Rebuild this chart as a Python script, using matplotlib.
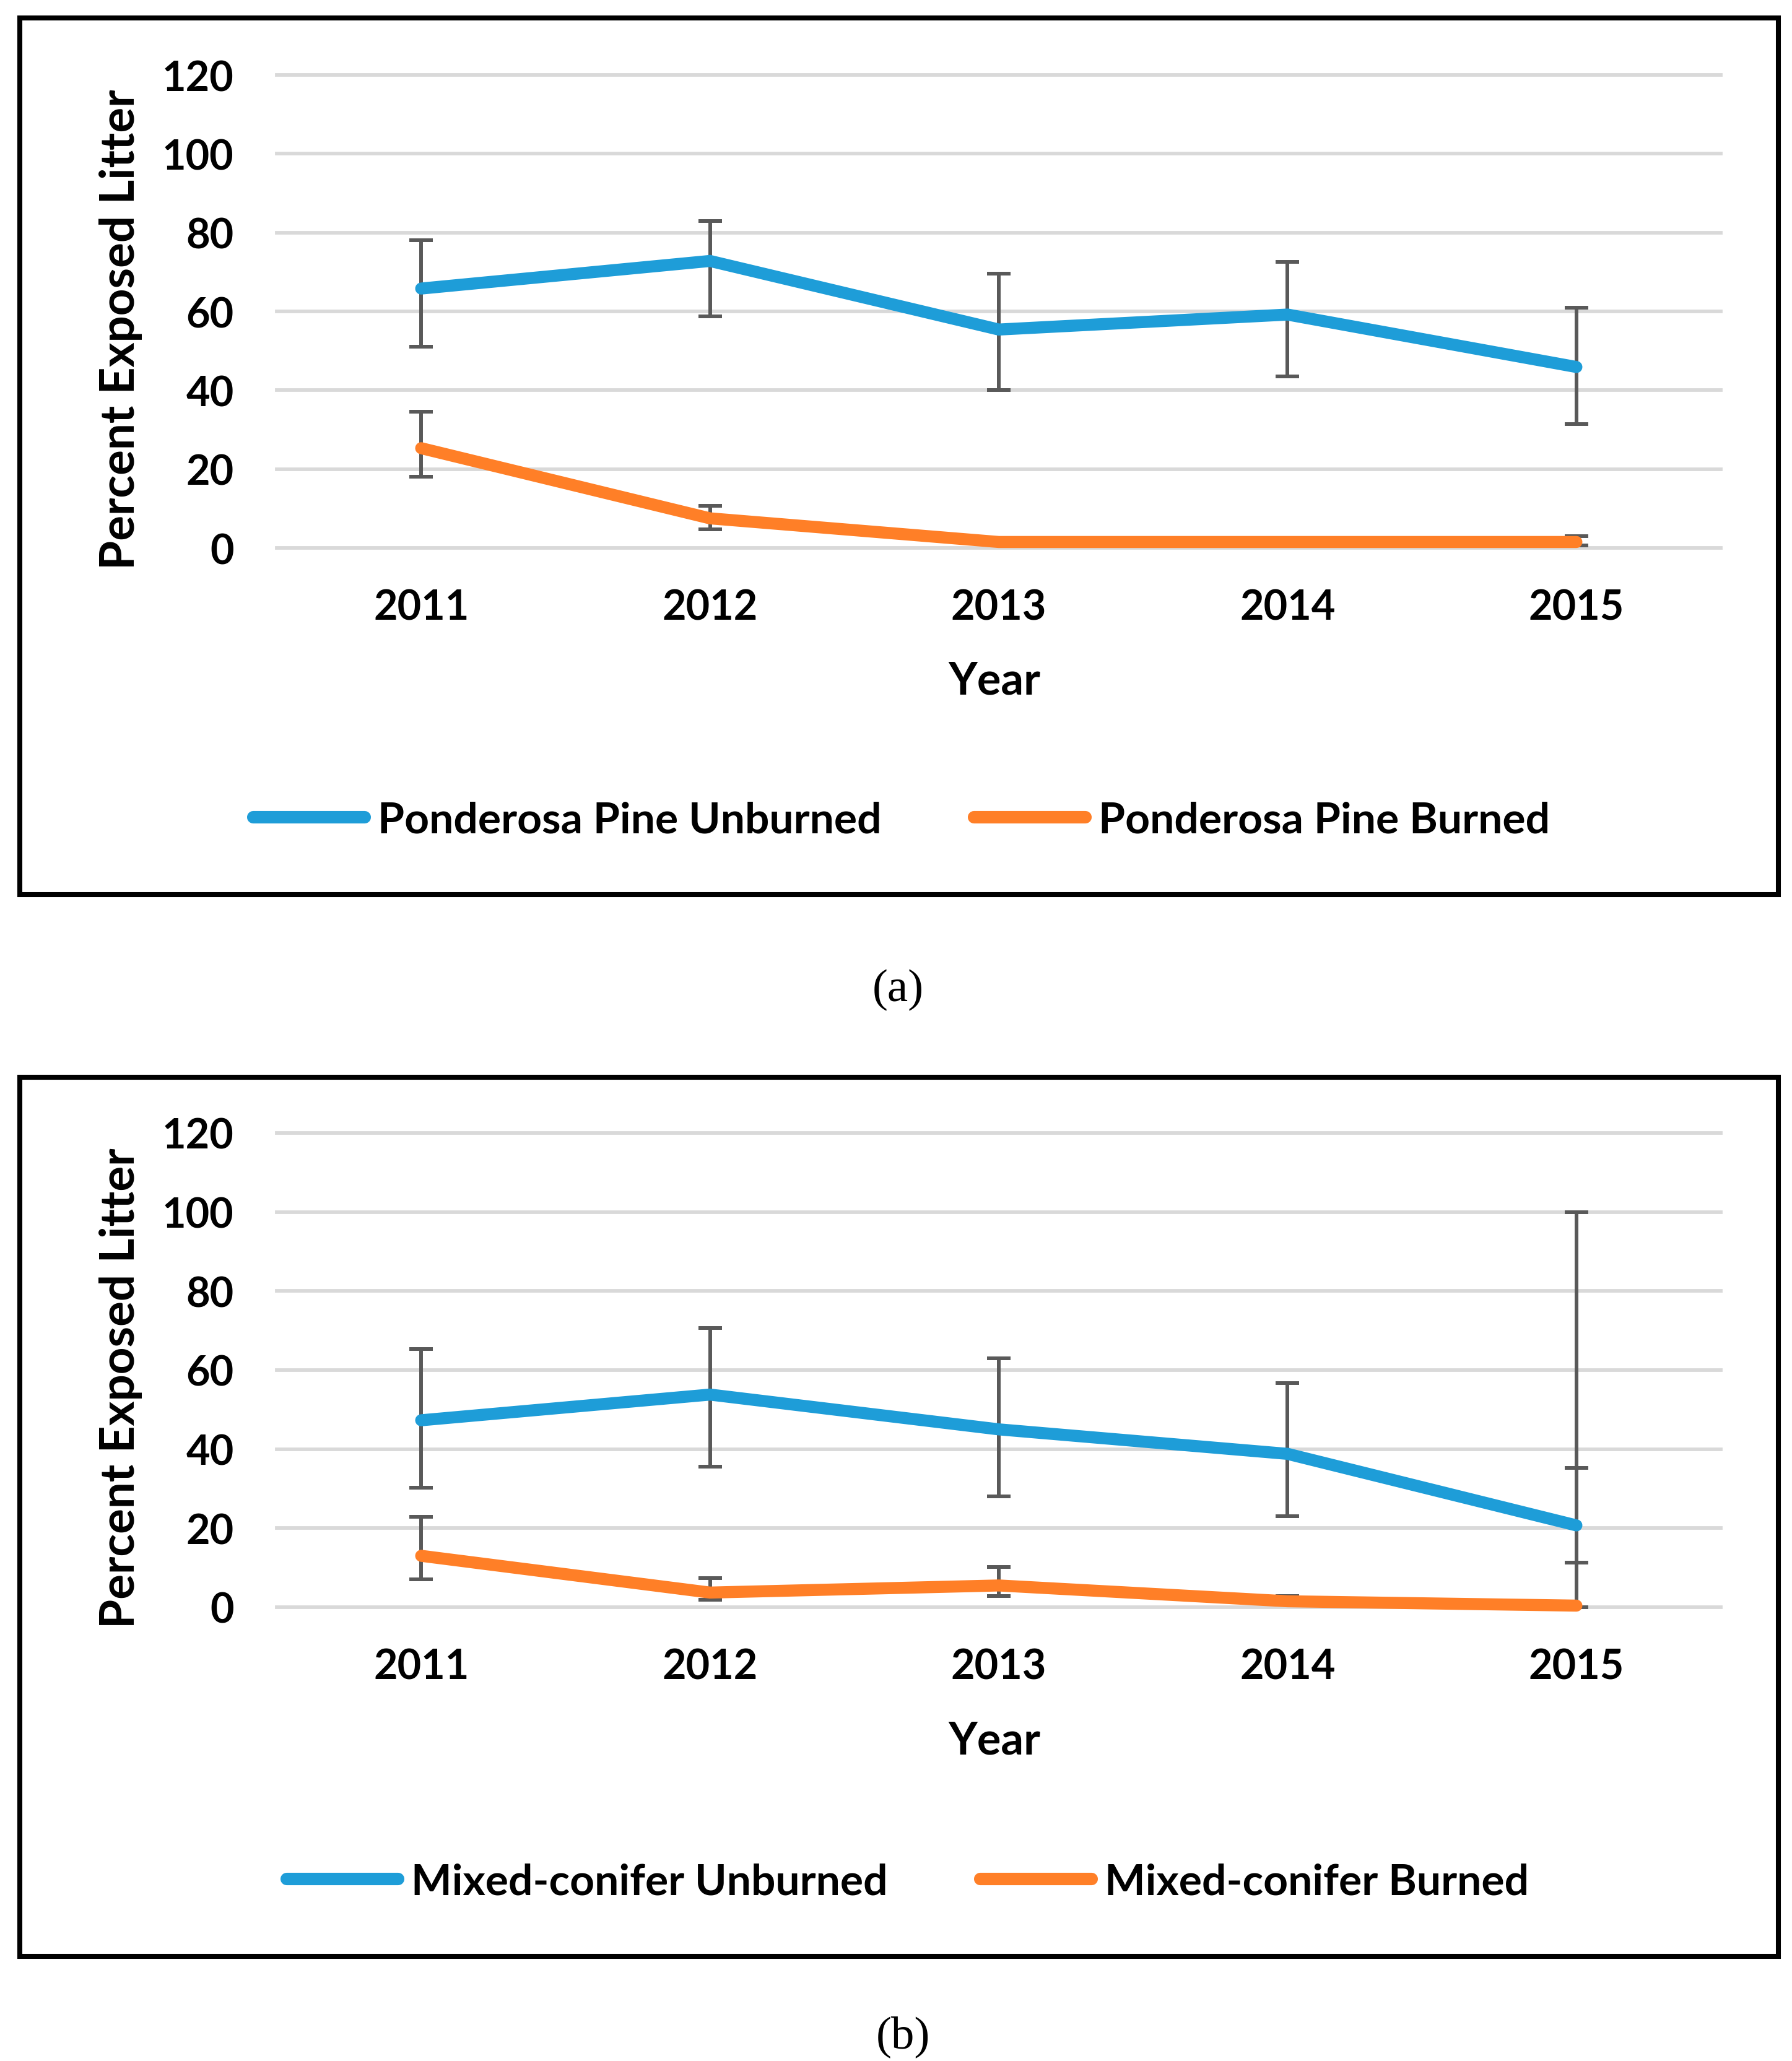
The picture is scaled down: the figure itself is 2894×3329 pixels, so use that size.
import matplotlib
matplotlib.use("Agg")
import matplotlib.pyplot as plt
import numpy as np
from matplotlib.patches import Rectangle

# data
years = ["2011", "2012", "2013", "2014", "2015"]

pp_unburned = [65.8, 72.8, 55.4, 59.2, 45.9]
pp_unburned_hi = [78.1, 82.9, 69.6, 72.6, 61.0]
pp_unburned_lo = [51.0, 58.7, 40.0, 43.5, 31.4]
pp_burned = [25.3, 7.5, 1.5, 1.5, 1.5]
pp_burned_hi = [34.5, 10.7, 2.5, 2.3, 3.0]
pp_burned_lo = [18.0, 4.7, 0.8, 0.8, 0.6]

mc_unburned = [47.3, 53.8, 45.0, 38.8, 20.7]
mc_unburned_hi = [65.4, 70.7, 63.0, 56.7, 35.3]
mc_unburned_lo = [30.2, 35.6, 28.0, 23.1, 11.3]
mc_burned = [13.0, 3.7, 5.5, 1.5, 0.4]
mc_burned_hi = [22.8, 7.4, 10.2, 2.8, 100.0]
mc_burned_lo = [7.1, 1.9, 2.8, 0.8, 0.0]

labels_a = ["Ponderosa Pine Unburned", "Ponderosa Pine Burned"]
labels_b = ["Mixed-conifer Unburned", "Mixed-conifer Burned"]

BLUE = "#1E9DD8"
ORANGE = "#FF7F27"
GREY = "#595959"
FONT = ["Lato", "DejaVu Sans"]

plt.rcParams["font.family"] = FONT
plt.rcParams["font.weight"] = "bold"

W, H = 2894, 3330
fig = plt.figure(figsize=(W / 100, H / 100), dpi=100)


def fx(px):
    return px / W


def fy(px):
    return 1 - px / H


def panel(top_px, bot_px, unb, unb_lo, unb_hi, bur, bur_lo, bur_hi, labels, leg_x, leg_y):
    ax = fig.add_axes([fx(447), fy(bot_px), fx(2779) - fx(447), fy(top_px) - fy(bot_px)])
    x = np.arange(len(years))
    for vals, lo, hi in [(unb, unb_lo, unb_hi), (bur, bur_lo, bur_hi)]:
        v = np.array(vals)
        err = [v - np.array(lo), np.array(hi) - v]
        ax.errorbar(x, v, yerr=err, fmt="none", ecolor=GREY, elinewidth=4.3,
                    capsize=14, capthick=4.3, clip_on=False, zorder=2)
    l1, = ax.plot(x, unb, color=BLUE, lw=14, solid_capstyle="round",
                  solid_joinstyle="miter", clip_on=False, zorder=3)
    l2, = ax.plot(x, bur, color=ORANGE, lw=14, solid_capstyle="round",
                  solid_joinstyle="miter", clip_on=False, zorder=3)

    ax.set_xlim(-0.5, len(years) - 0.5)
    ax.set_ylim(0, 120)
    ax.set_yticks(np.arange(0, 121, 20))
    ax.set_xticks(x)
    ax.set_xticklabels(years)
    ax.tick_params(length=0, labelsize=48)
    ax.tick_params(axis="y", pad=50)
    ax.tick_params(axis="x", pad=47)
    for s in ax.spines.values():
        s.set_visible(False)
    ax.grid(axis="y", color="#D9D9D9", lw=4.2)
    for gl in ax.get_ygridlines():
        gl.set_clip_on(False)
    ax.set_axisbelow(True)

    ax.set_ylabel("Percent Exposed Litter", fontsize=55, fontweight="bold")
    ax.yaxis.set_label_coords(-0.093, 0.463)
    ax.set_xlabel("Year", fontsize=52, fontweight="bold")
    ax.xaxis.set_label_coords(0.497, -0.238)

    fig.legend([l1, l2], labels, loc="center", bbox_to_anchor=(fx(leg_x), fy(leg_y)),
               ncol=2, frameon=False, handlelength=2.6,
               handletextpad=0.3, columnspacing=2.15,
               prop={"family": FONT, "weight": "bold", "size": 50})
    for lh in fig.legends[-1].get_lines():
        lh.set_linewidth(14.5)
    return ax


panel(122, 886, pp_unburned, pp_unburned_lo, pp_unburned_hi,
      pp_burned, pp_burned_lo, pp_burned_hi, labels_a, 1456, 1326)
panel(1831, 2597, mc_unburned, mc_unburned_lo, mc_unburned_hi,
      mc_burned, mc_burned_lo, mc_burned_hi, labels_b, 1466, 3041)

# black frames round each chart
for top, bot in [(29.5, 1445.5), (1741, 3161)]:
    fig.add_artist(Rectangle((fx(31.5), fy(bot)), fx(2872) - fx(31.5), fy(top) - fy(bot),
                             transform=fig.transFigure, fill=False, ec="black", lw=5.8))

fig.text(fx(1450), fy(1599), "(a)", ha="center", va="center", fontsize=54,
         family=["Liberation Serif", "DejaVu Serif"], fontweight="normal")
fig.text(fx(1458), fy(3290), "(b)", ha="center", va="center", fontsize=54,
         family=["Liberation Serif", "DejaVu Serif"], fontweight="normal")

fig.savefig("out.png", dpi=100)
